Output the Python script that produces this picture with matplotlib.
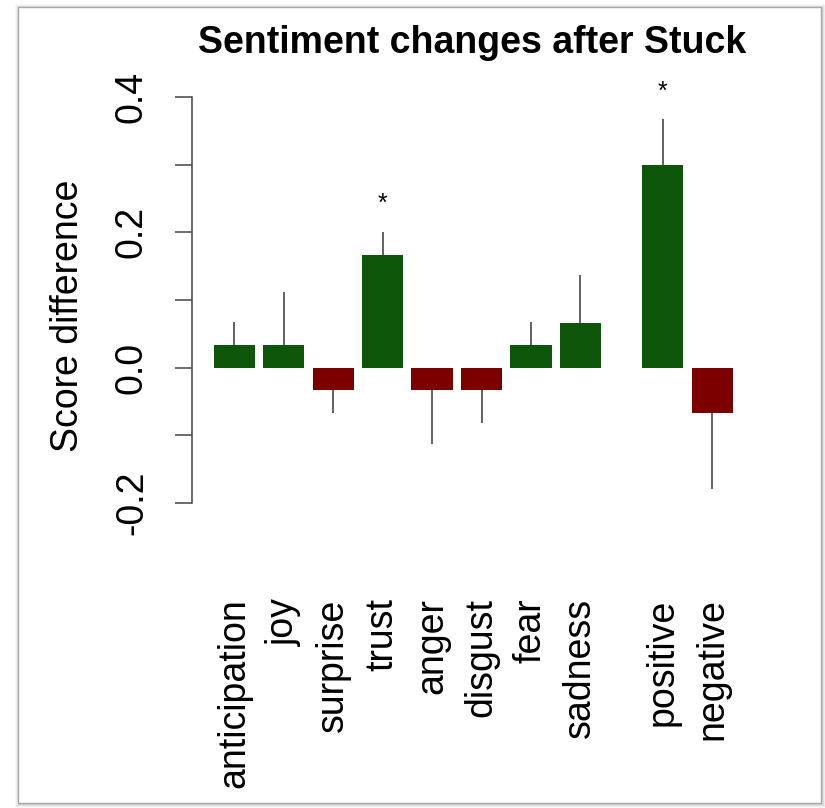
import matplotlib
matplotlib.use("Agg")
import matplotlib.pyplot as plt
from matplotlib.patches import Rectangle
import numpy as np

# Sentiment categories and mean score differences (after - before)
categories = ["anticipation", "joy", "surprise", "trust", "anger",
              "disgust", "fear", "sadness", "positive", "negative"]
score_diff = [0.0333, 0.0333, -0.0333, 0.1667, -0.0333,
              -0.0333, 0.0333, 0.0667, 0.3000, -0.0667]
std_err = [0.034, 0.078, 0.034, 0.034, 0.079,
           0.048, 0.034, 0.070, 0.067, 0.112]
significant = [False, False, False, True, False,
               False, False, False, True, False]
y_ticks = [-0.2, -0.1, 0.0, 0.1, 0.2, 0.3, 0.4]
y_tick_labels = ["-0.2", "", "0.0", "", "0.2", "", "0.4"]

W, H = 825, 808
fig = plt.figure(figsize=(W / 100, H / 100), dpi=100)
fig.patch.set_facecolor("white")

# Card with a soft drop shadow around the plot
card = (18, 7, 821, 803)  # left, top, right, bottom in pixels
for i, a in enumerate([0.05, 0.08, 0.12, 0.18]):
    off = 4 - i
    fig.patches.append(Rectangle(((card[0] - off + 1) / W, (H - card[3] - off - 1) / H),
                                 (card[2] - card[0] + 2 * off) / W,
                                 (card[3] - card[1] + 2 * off) / H,
                                 transform=fig.transFigure, facecolor="#808080",
                                 edgecolor="none", alpha=a, zorder=0))
fig.patches.append(Rectangle((card[0] / W, (H - card[3]) / H),
                             (card[2] - card[0]) / W, (card[3] - card[1]) / H,
                             transform=fig.transFigure, facecolor="white",
                             edgecolor="#a8a8a8", linewidth=1.0, zorder=1))

plt.rcParams["font.family"] = ["Liberation Sans", "DejaVu Sans"]

# Axes placement (pixel-based)
ax_left, ax_right, ax_top, ax_bottom = 192.3, 749.3, 60, 540
ax = fig.add_axes([ax_left / W, (H - ax_bottom) / H,
                   (ax_right - ax_left) / W, (ax_bottom - ax_top) / H])
ax.set_facecolor("none")
ax.set_zorder(2)

# Bar layout as in a base barplot: width 1, gap 0.2, wider gap before positive/negative
space = [0.2] * 8 + [1.0, 0.2]
lefts = np.cumsum(np.array(space) + 1.0) - 1.0
centers = lefts + 0.5

colors = ["#0d5508" if v > 0 else "#7d0000" for v in score_diff]
ax.bar(centers, score_diff, width=1.0, color=colors, edgecolor="none", zorder=2)

# One-sided error bars pointing away from zero, with a star above significant ones
for x, v, e, sig in zip(centers, score_diff, std_err, significant):
    end = v + e if v > 0 else v - e
    ax.plot([x, x], [v, end], color="#555555", linewidth=1.3, zorder=3,
            solid_capstyle="butt")
    if sig:
        ax.text(x, end + 0.041, "*", ha="center", va="center", fontsize=18,
                color="black", zorder=4)

ax.set_xlim(-0.32, 13.2)
ax.set_ylim((367.7 - ax_bottom) / 677.0, (367.7 - ax_top) / 677.0)

for s in ["top", "right", "bottom"]:
    ax.spines[s].set_visible(False)
ax.spines["left"].set_bounds(-0.2, 0.4)
ax.spines["left"].set_color("#444444")
ax.spines["left"].set_linewidth(1.1)

ax.set_yticks(y_ticks)
ax.set_yticklabels(y_tick_labels, rotation=90, va="center", fontsize=27)
ax.tick_params(axis="y", length=12.5, width=1.1, color="#444444", pad=18)

ax.set_xticks(centers)
ax.set_xticklabels(categories, rotation=90, ha="center", va="top", fontsize=27)
ax.tick_params(axis="x", length=0, pad=42)

fig.text(67.5 / W, 1 - 316 / H, "Score difference", rotation=90,
         ha="center", va="center", fontsize=27)
fig.text(472 / W, 1 - 43 / H, "Sentiment changes after Stuck",
         ha="center", va="center", fontsize=27, fontweight="bold")

fig.savefig("out.png", dpi=100, facecolor=fig.get_facecolor())
